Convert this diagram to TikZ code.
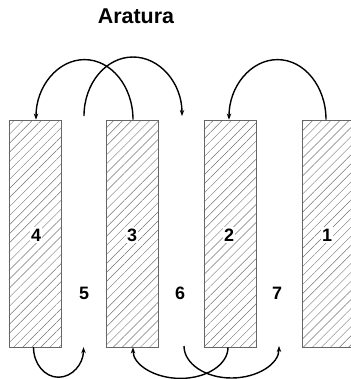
\documentclass[tikz,border=0pt]{standalone}
\usepackage{fontspec}
\setmainfont{Liberation Sans}
\usetikzlibrary{arrows.meta,patterns.meta}
\begin{document}
\begin{tikzpicture}[x=1bp,y=1bp,
  bar/.style={draw=black!60,line width=0.8bp,minimum width=52bp,minimum height=227bp,inner sep=0pt,
    pattern={Lines[angle=45,distance=6.4bp,line width=0.45bp]},pattern color=black!55},
  num/.style={font=\bfseries\fontsize{18}{18}\selectfont,inner sep=1.5bp},
  numw/.style={num,fill=white},
  arcline/.style={line width=1.4bp,-{Stealth[length=6bp,width=4.5bp]}}]
\clip (0,0) rectangle (351,-379);
\node[font=\bfseries\fontsize{21.5}{21.5}\selectfont] (title) at (136,-16) {Aratura};
\node[bar] (r4) at (35,-233.5) {};
\node[bar] (r3) at (132.5,-233.5) {};
\node[bar] (r2) at (230,-233.5) {};
\node[bar] (r1) at (328,-233.5) {};
\node[numw] (n4) at (36,-235) {4};
\node[numw] (n3) at (132,-235) {3};
\node[numw] (n2) at (229,-235) {2};
\node[numw] (n1) at (327,-235) {1};
\node[num] (n5) at (84,-293) {5};
\node[num] (n6) at (180,-293) {6};
\node[num] (n7) at (277,-293) {7};
\coordinate (g5t) at (84,-116);
\coordinate (g6b) at (184,-346);
% top arcs
\draw[arcline] ([xshift=0.5bp]r3.north) arc[start angle=0,end angle=180,x radius=48.5,y radius=60];
\draw[arcline] (g5t) arc[start angle=180,end angle=0,x radius=49,y radius=59];
\draw[arcline] ([xshift=-2bp]r1.north) arc[start angle=0,end angle=180,x radius=48.5,y radius=60];
% bottom arcs
\draw[arcline] ([xshift=-1.5bp]r4.south) arc[start angle=180,end angle=360,x radius=25,y radius=30];
\draw[arcline] ([xshift=-2bp]r2.south) arc[start angle=0,end angle=-180,x radius=47.5,y radius=31];
\draw[arcline] (g6b) arc[start angle=180,end angle=360,x radius=47.5,y radius=32];
\end{tikzpicture}
\end{document}
